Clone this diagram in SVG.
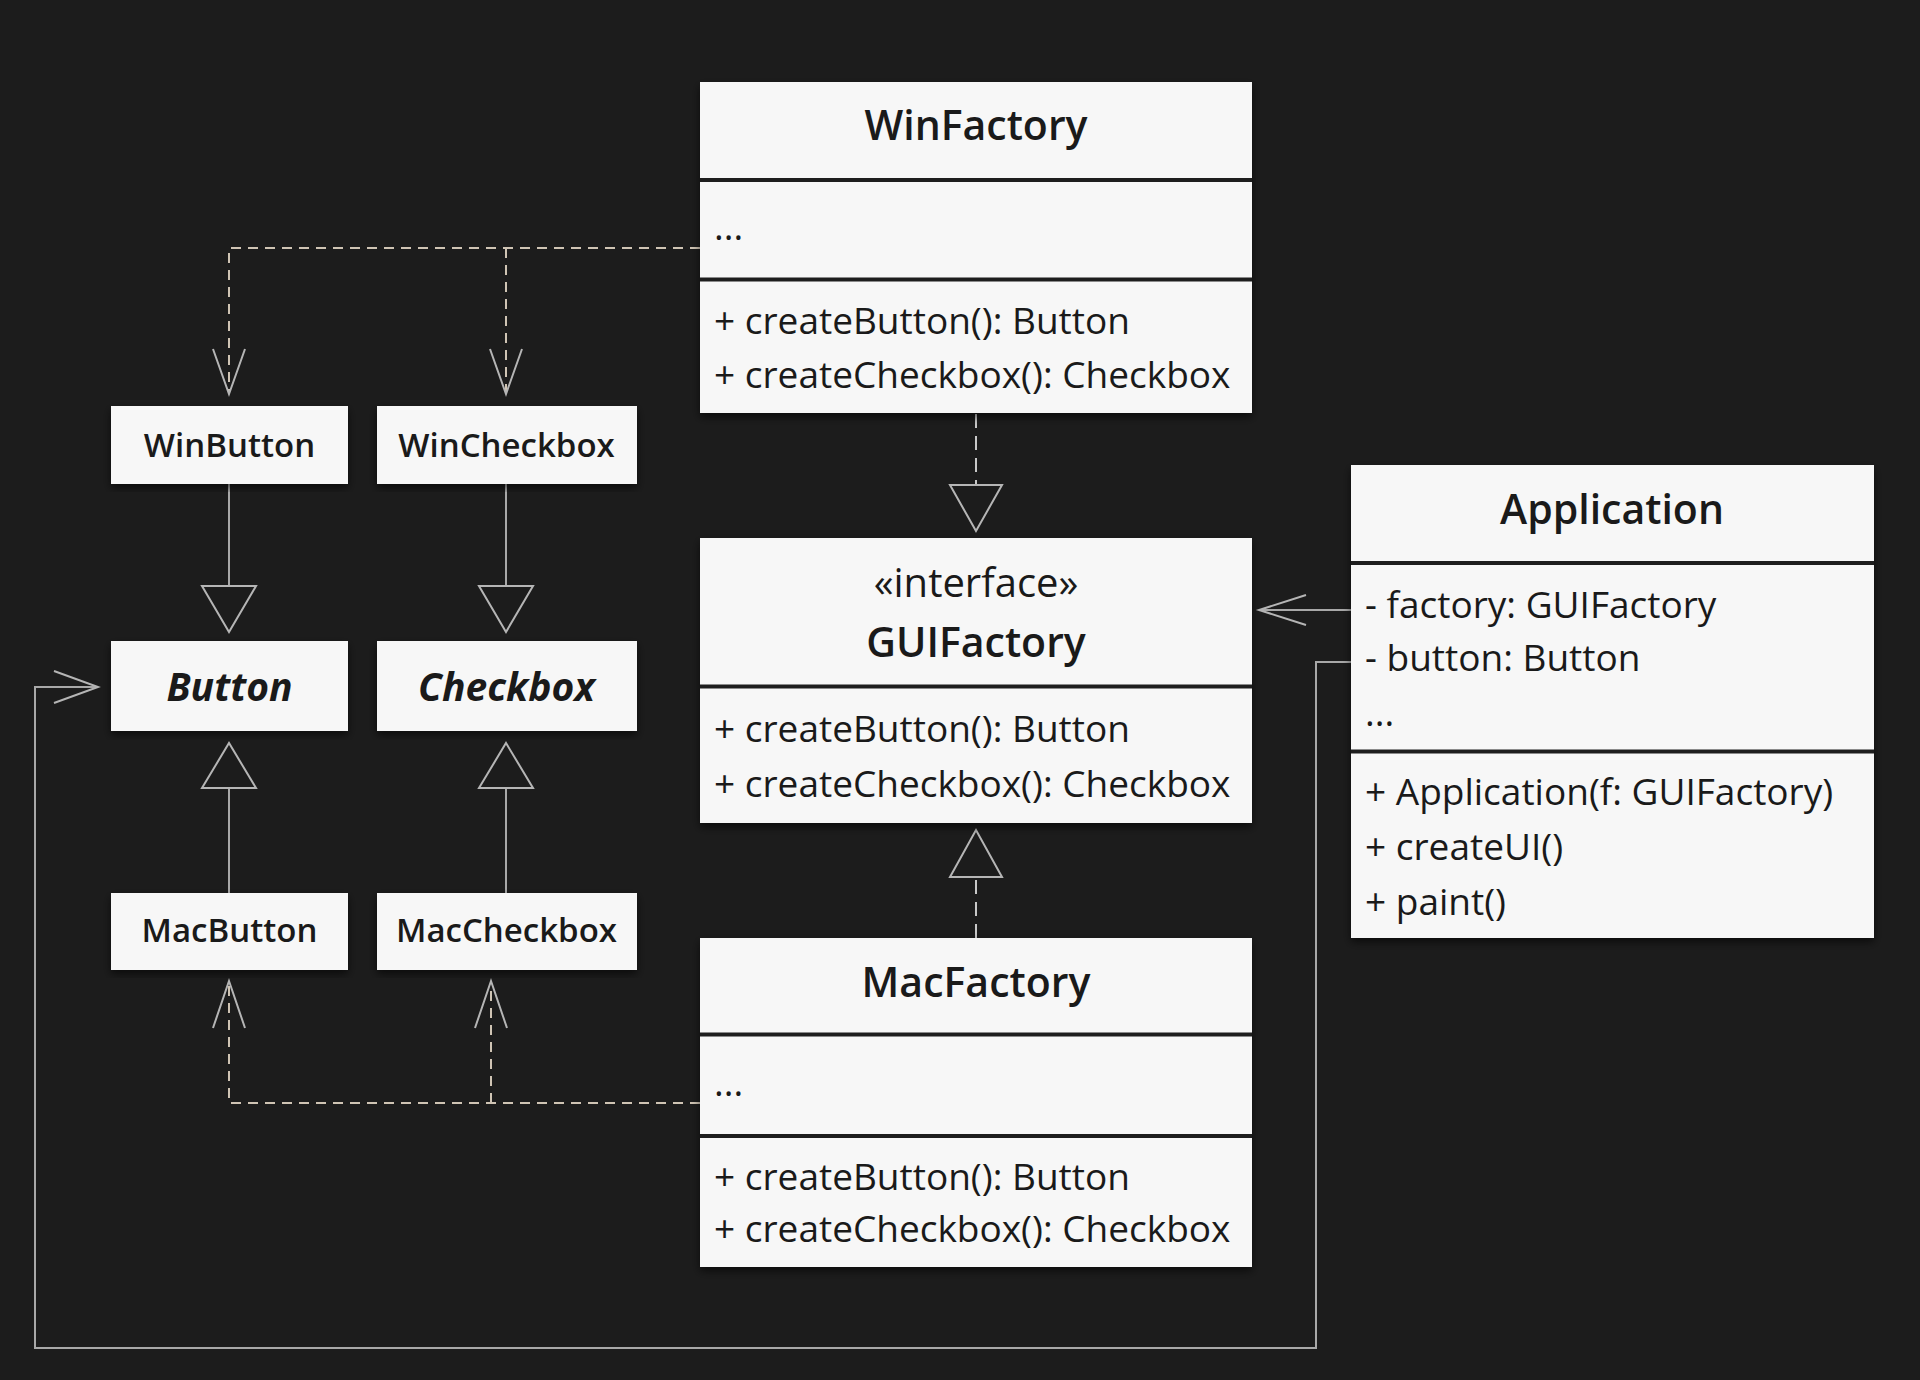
<svg xmlns="http://www.w3.org/2000/svg" width="1920" height="1380" viewBox="0 0 1920 1380">
<defs>
<filter id="sh" x="-5%" y="-5%" width="110%" height="115%">
<feDropShadow dx="0" dy="4" stdDeviation="4" flood-color="#000" flood-opacity="0.6"/>
</filter>
</defs>
<style>
.box{fill:#f7f7f7;filter:url(#sh)}
.div{stroke:#1e1e1e;stroke-width:4}
.t{font-family:"Open Sans","Noto Sans","Liberation Sans",sans-serif;fill:#1a1a1a}
.title{font-size:41px;font-weight:600;text-anchor:middle}
.small{font-size:33px;font-weight:600;text-anchor:middle}
.abs{font-size:39px;font-weight:700;font-style:italic;text-anchor:middle}
.mem{font-size:37px}
.st{font-size:40px;text-anchor:middle}
.solid{fill:none;stroke:#a8a8a8;stroke-width:2}
.dash{fill:none;stroke:#cfc4b4;stroke-width:2;stroke-dasharray:10 7}
.dash2{fill:none;stroke:#c8c8c8;stroke-width:2;stroke-dasharray:14 8}
.tri{fill:#1c1c1c;stroke:#b5b5b5;stroke-width:2}
.open{fill:none;stroke:#b5b5b5;stroke-width:2}
</style>
<rect width="1920" height="1380" fill="#1c1c1c"/>

<g id="connectors">
<path class="dash" d="M700,248 H229 V394 M506,248 V394"/>
<polyline class="open" points="213,349 229,394 245,349"/>
<polyline class="open" points="490,349 506,394 522,349"/>
<path class="dash" d="M700,1103 H229 V981 M491,1103 V981"/>
<polyline class="open" points="213,1028 229,981 245,1028"/>
<polyline class="open" points="475,1028 491,981 507,1028"/>
<path class="solid" d="M229,484 V586 M506,484 V586 M229,893 V788 M506,893 V788"/>
<polygon class="tri" points="202,586 256,586 229,632"/>
<polygon class="tri" points="479,586 533,586 506,632"/>
<polygon class="tri" points="202,788 256,788 229,743"/>
<polygon class="tri" points="479,788 533,788 506,743"/>
<path class="dash2" d="M976,414 V485 M976,938 V877"/>
<polygon class="tri" points="950,485 1002,485 976,531"/>
<polygon class="tri" points="950,877 1002,877 976,830"/>
<path class="solid" d="M1351,610 H1259"/>
<polyline class="open" points="1306,595 1259,610 1306,625"/>
<path class="solid" d="M1351,662 H1316 V1348 H35 V687 H98"/>
<polyline class="open" points="54,671 98,687 54,703"/>
</g>

<g id="WinFactory">
<rect class="box" x="700" y="82" width="552" height="331"/>
<line class="div" x1="700" y1="180" x2="1252" y2="180"/>
<line class="div" x1="700" y1="279.5" x2="1252" y2="279.5"/>
<text class="t title" x="976" y="140">WinFactory</text>
<text class="t mem" x="714" y="240">...</text>
<text class="t mem" x="714" y="334">+ createButton(): Button</text>
<text class="t mem" x="714" y="388">+ createCheckbox(): Checkbox</text>
</g>

<g id="GUIFactory">
<rect class="box" x="700" y="538" width="552" height="285"/>
<line class="div" x1="700" y1="686.5" x2="1252" y2="686.5"/>
<text class="t st" x="976" y="597">«interface»</text>
<text class="t title" x="976" y="657">GUIFactory</text>
<text class="t mem" x="714" y="742">+ createButton(): Button</text>
<text class="t mem" x="714" y="797">+ createCheckbox(): Checkbox</text>
</g>

<g id="MacFactory">
<rect class="box" x="700" y="938" width="552" height="329"/>
<line class="div" x1="700" y1="1034.5" x2="1252" y2="1034.5"/>
<line class="div" x1="700" y1="1136" x2="1252" y2="1136"/>
<text class="t title" x="976" y="997">MacFactory</text>
<text class="t mem" x="714" y="1096">...</text>
<text class="t mem" x="714" y="1190">+ createButton(): Button</text>
<text class="t mem" x="714" y="1242">+ createCheckbox(): Checkbox</text>
</g>

<g id="Application">
<rect class="box" x="1351" y="465" width="523" height="473"/>
<line class="div" x1="1351" y1="563" x2="1874" y2="563"/>
<line class="div" x1="1351" y1="751.5" x2="1874" y2="751.5"/>
<text class="t title" x="1612" y="524">Application</text>
<text class="t mem" x="1365" y="618">- factory: GUIFactory</text>
<text class="t mem" x="1365" y="671">- button: Button</text>
<text class="t mem" x="1365" y="726">...</text>
<text class="t mem" x="1365" y="805">+ Application(f: GUIFactory)</text>
<text class="t mem" x="1365" y="860">+ createUI()</text>
<text class="t mem" x="1365" y="915">+ paint()</text>
</g>

<g id="WinButton">
<rect class="box" x="111" y="406" width="237" height="78"/>
<text class="t small" x="229.5" y="457">WinButton</text>
</g>
<g id="WinCheckbox">
<rect class="box" x="377" y="406" width="260" height="78"/>
<text class="t small" x="506.5" y="457">WinCheckbox</text>
</g>
<g id="Button">
<rect class="box" x="111" y="641" width="237" height="90"/>
<text class="t abs" x="229.5" y="701">Button</text>
</g>
<g id="Checkbox">
<rect class="box" x="377" y="641" width="260" height="90"/>
<text class="t abs" x="506.5" y="701">Checkbox</text>
</g>
<g id="MacButton">
<rect class="box" x="111" y="893" width="237" height="77"/>
<text class="t small" x="229.5" y="942">MacButton</text>
</g>
<g id="MacCheckbox">
<rect class="box" x="377" y="893" width="260" height="77"/>
<text class="t small" x="506.5" y="942">MacCheckbox</text>
</g>
</svg>
